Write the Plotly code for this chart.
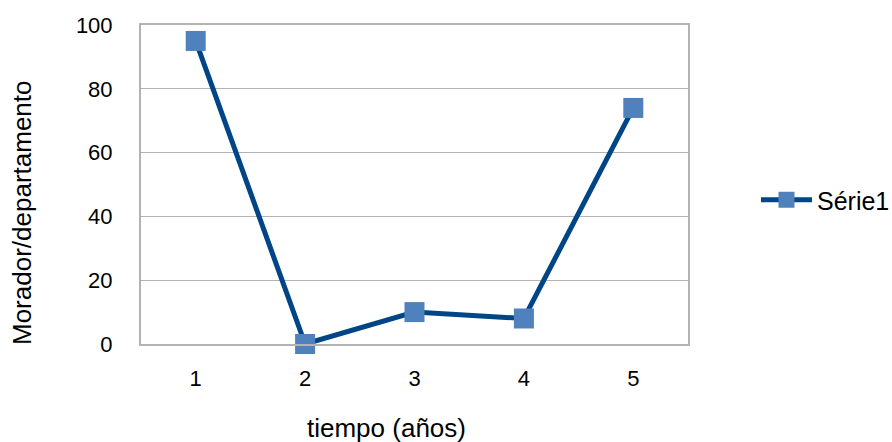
import plotly.graph_objects as go

# Series data
categorias = ["1", "2", "3", "4", "5"]
valores = [95, 0, 10, 8, 74]
serie_nombre = "Série1"
y_ticks = [0, 20, 40, 60, 80, 100]

W, H = 892, 442
L, R, T, B = 141, 204, 25, 98
PW, PH = W - L - R, H - T - B

fig = go.Figure()
fig.add_trace(go.Scatter(
    x=[1, 2, 3, 4, 5],
    y=valores,
    mode="lines+markers",
    name=serie_nombre,
    line=dict(color="#004586", width=5),
    marker=dict(symbol="square", size=20, color="#4f81bd",
                line=dict(width=0)),
    cliponaxis=False,
))

font_family = "Liberation Sans, Arial, sans-serif"

fig.update_layout(
    width=W, height=H,
    margin=dict(l=L, r=R, t=T, b=B, autoexpand=False),
    paper_bgcolor="white",
    plot_bgcolor="white",
    font=dict(family=font_family, size=22, color="#000000"),
    showlegend=True,
    legend=dict(
        x=(756 - L) / PW, y=1 - (200 - T) / PH,
        xanchor="left", yanchor="middle",
        font=dict(size=25),
        itemwidth=51,
        bgcolor="rgba(0,0,0,0)",
    ),
)

fig.update_xaxes(
    range=[0.5, 5.5],
    tickvals=[1, 2, 3, 4, 5],
    ticktext=categorias,
    showgrid=False,
    zeroline=False,
    showline=True, linecolor="#b3b3b3", linewidth=2, mirror=True,
    ticks="", ticklabelstandoff=14,
    tickfont=dict(size=22),
)
fig.update_yaxes(
    range=[0, 100],
    tickvals=y_ticks,
    showgrid=True, gridcolor="#b3b3b3", gridwidth=1,
    zeroline=False,
    showline=True, linecolor="#b3b3b3", linewidth=2, mirror=True,
    ticks="", ticklabelstandoff=22,
    tickfont=dict(size=22),
)

fig.add_annotation(
    text="tiempo (años)", xref="paper", yref="paper",
    x=(386 - L) / PW, y=-(428 - T - PH) / PH,
    xanchor="center", yanchor="middle", showarrow=False,
    font=dict(size=26),
)
fig.add_annotation(
    text="Morador/departamento", xref="paper", yref="paper",
    x=-(L - 22) / PW, y=1 - (213 - T) / PH,
    xanchor="center", yanchor="middle", showarrow=False, textangle=-90,
    font=dict(size=26),
)

fig.write_html("out.html")
